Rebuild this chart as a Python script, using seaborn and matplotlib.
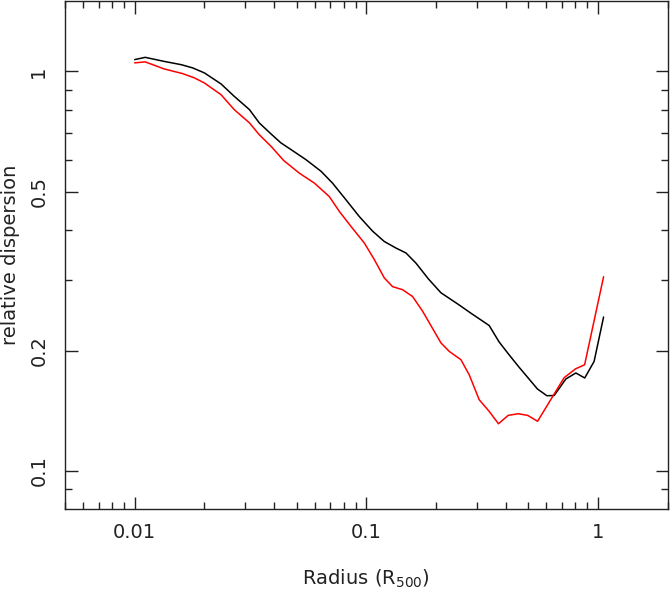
import numpy as np
import pandas as pd
import matplotlib
matplotlib.use('Agg')
import matplotlib.pyplot as plt
import matplotlib.ticker as mticker
import seaborn as sns

# ── Data ──────────────────────────────────────────────────────────────────────
radius_black = [0.0100, 0.0111, 0.0134, 0.0159, 0.0178, 0.0200, 0.0236, 0.0269,
                0.0313, 0.0345, 0.0388, 0.0428, 0.0473, 0.0549, 0.0638, 0.0715,
                0.0817, 0.0933, 0.1065, 0.1196, 0.1344, 0.1484, 0.1639, 0.1857,
                0.2101, 0.2520, 0.2831, 0.3395, 0.3750, 0.4142, 0.4540, 0.5487,
                0.6025, 0.6477, 0.7276, 0.8039, 0.8780, 0.9638, 1.059]
disp_black = [1.070, 1.084, 1.059, 1.039, 1.020, 0.991, 0.930, 0.866,
              0.802, 0.743, 0.697, 0.662, 0.637, 0.601, 0.562, 0.525,
              0.477, 0.433, 0.398, 0.375, 0.361, 0.351, 0.331, 0.302,
              0.279, 0.260, 0.248, 0.231, 0.210, 0.195, 0.1825, 0.1602,
              0.1541, 0.1543, 0.1697, 0.1757, 0.1707, 0.1878, 0.2426]

radius_red = [0.0100, 0.0111, 0.0134, 0.0161, 0.0181, 0.0200, 0.0236, 0.0269,
              0.0313, 0.0345, 0.0388, 0.0440, 0.0514, 0.0597, 0.0692, 0.0765,
              0.0859, 0.0980, 0.1083, 0.1196, 0.1299, 0.1435, 0.1585, 0.1750,
              0.2101, 0.2282, 0.2563, 0.2783, 0.3074, 0.3395, 0.3724, 0.4101,
              0.4529, 0.4977, 0.5494, 0.7154, 0.8022, 0.8770, 1.059]
disp_red = [1.050, 1.056, 1.014, 0.987, 0.963, 0.935, 0.874, 0.802,
            0.743, 0.694, 0.649, 0.598, 0.556, 0.525, 0.486, 0.446,
            0.409, 0.372, 0.338, 0.304, 0.289, 0.284, 0.273, 0.251,
            0.209, 0.199, 0.1897, 0.1739, 0.1506, 0.1408, 0.1311, 0.1376,
            0.1389, 0.1376, 0.1330, 0.1710, 0.1800, 0.1842, 0.306]

df_black = pd.DataFrame({'radius': radius_black, 'disp': disp_black})
df_red = pd.DataFrame({'radius': radius_red, 'disp': disp_red})

# ── Plot ──────────────────────────────────────────────────────────────────────
sns.set_theme(style='ticks')
plt.rcParams['font.family'] = ['DejaVu Sans']

fig = plt.figure(figsize=(6.7, 5.91), dpi=100)
ax = fig.add_axes([0.097, 0.138, 0.8993, 0.8603])

sns.lineplot(data=df_black, x='radius', y='disp', color='black', lw=1.1, sort=False, ax=ax)
sns.lineplot(data=df_red, x='radius', y='disp', color='#ff0000', lw=1.1, sort=False, ax=ax)

ax.set_xscale('log')
ax.set_yscale('log')
ax.set_xlim(0.005, 2.0)
ax.set_ylim(0.08, 1.5)

ax.xaxis.set_major_locator(mticker.FixedLocator([0.01, 0.1, 1]))
ax.xaxis.set_major_formatter(mticker.FixedFormatter(['0.01', '0.1', '1']))
ax.xaxis.set_minor_locator(mticker.LogLocator(base=10, subs=np.arange(2, 10), numticks=20))
ax.xaxis.set_minor_formatter(mticker.NullFormatter())

ax.yaxis.set_major_locator(mticker.FixedLocator([0.1, 0.2, 0.5, 1]))
ax.yaxis.set_major_formatter(mticker.FixedFormatter(['0.1', '0.2', '0.5', '1']))
ax.yaxis.set_minor_locator(mticker.FixedLocator([0.09, 0.3, 0.4, 0.6, 0.7, 0.8, 0.9]))
ax.yaxis.set_minor_formatter(mticker.NullFormatter())

ax.tick_params(which='both', direction='in', top=True, right=True, colors='#222222',
               labelsize=14, labelcolor='#222222')
ax.tick_params(which='major', length=9, width=1, pad=10)
ax.tick_params(which='minor', length=5, width=1)
ax.tick_params(axis='y', which='major', pad=12)
for lab in ax.get_yticklabels():
    lab.set_rotation(90)
    lab.set_va('center')

for sp in ax.spines.values():
    sp.set_color('#222222')
    sp.set_linewidth(1)

ax.set_xlabel('Radius (R$_{500}$)', fontsize=14, color='#222222', labelpad=18)
ax.set_ylabel('relative dispersion', fontsize=14, color='#222222')
ax.yaxis.set_label_coords(-0.074, 0.5)

fig.savefig('out.png', dpi=100)
